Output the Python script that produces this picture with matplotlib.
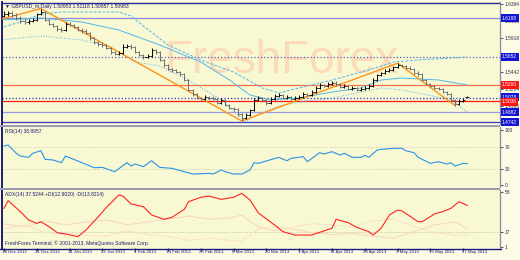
import matplotlib
matplotlib.use('Agg')
import matplotlib.pyplot as plt
import matplotlib.transforms as mtransforms
from matplotlib.patches import Rectangle
from matplotlib.lines import Line2D

# ---- data ----
opens = [1.6232, 1.6250, 1.6270, 1.6238, 1.6196, 1.6158, 1.6140, 1.6152, 1.6168, 1.6252,
         1.6280, 1.6172, 1.6112, 1.6088, 1.6046, 1.6028, 1.6116, 1.6098, 1.6074, 1.6028,
         1.6018, 1.5986, 1.5920, 1.5860, 1.5836, 1.5818, 1.5780, 1.5720, 1.5696, 1.5706,
         1.5790, 1.5808, 1.5790, 1.5724, 1.5678, 1.5654, 1.5664, 1.5752, 1.5720, 1.5612,
         1.5538, 1.5486, 1.5468, 1.5444, 1.5412, 1.5332, 1.5188, 1.5136, 1.5076, 1.5066,
         1.5090, 1.5080, 1.5062, 1.5010, 1.5048, 1.4982, 1.4936, 1.4926, 1.4852, 1.4800,
         1.4838, 1.4912, 1.5048, 1.5080, 1.5048, 1.5010, 1.5062, 1.5108, 1.5118, 1.5080,
         1.5090, 1.5066, 1.5076, 1.5094, 1.5132, 1.5122, 1.5160, 1.5220, 1.5258, 1.5248,
         1.5272, 1.5290, 1.5272, 1.5234, 1.5244, 1.5206, 1.5216, 1.5192, 1.5202, 1.5220,
         1.5244, 1.5332, 1.5398, 1.5430, 1.5454, 1.5472, 1.5510, 1.5542, 1.5524, 1.5500,
         1.5482, 1.5430, 1.5412, 1.5332, 1.5272, 1.5248, 1.5216, 1.5206, 1.5160, 1.5136,
         1.5048, 1.4996, 1.5034, 1.5095]
highs = [1.6290, 1.6300, 1.6296, 1.6262, 1.6222, 1.6188, 1.6178, 1.6200, 1.6272, 1.6330,
         1.6296, 1.6190, 1.6130, 1.6104, 1.6070, 1.6140, 1.6144, 1.6120, 1.6090, 1.6056,
         1.6040, 1.6002, 1.5934, 1.5880, 1.5858, 1.5836, 1.5796, 1.5740, 1.5730, 1.5830,
         1.5836, 1.5828, 1.5802, 1.5740, 1.5696, 1.5690, 1.5776, 1.5770, 1.5730, 1.5626,
         1.5552, 1.5500, 1.5490, 1.5462, 1.5428, 1.5340, 1.5204, 1.5150, 1.5098, 1.5120,
         1.5110, 1.5100, 1.5076, 1.5080, 1.5062, 1.4996, 1.4952, 1.4940, 1.4866, 1.4866,
         1.4930, 1.5078, 1.5100, 1.5096, 1.5064, 1.5090, 1.5134, 1.5148, 1.5136, 1.5116,
         1.5106, 1.5104, 1.5118, 1.5156, 1.5150, 1.5186, 1.5240, 1.5284, 1.5276, 1.5300,
         1.5312, 1.5310, 1.5290, 1.5270, 1.5262, 1.5240, 1.5232, 1.5226, 1.5242, 1.5270,
         1.5352, 1.5420, 1.5448, 1.5478, 1.5494, 1.5532, 1.5566, 1.5560, 1.5546, 1.5522,
         1.5500, 1.5452, 1.5426, 1.5346, 1.5290, 1.5264, 1.5238, 1.5220, 1.5178, 1.5150,
         1.5062, 1.5058, 1.5072, 1.5112]
lows = [1.6210, 1.6226, 1.6218, 1.6176, 1.6130, 1.6118, 1.6120, 1.6136, 1.6160, 1.6240,
        1.6150, 1.6094, 1.6066, 1.6020, 1.6004, 1.6016, 1.6080, 1.6052, 1.6012, 1.5990,
        1.5970, 1.5896, 1.5840, 1.5812, 1.5796, 1.5760, 1.5700, 1.5674, 1.5680, 1.5700,
        1.5772, 1.5770, 1.5706, 1.5660, 1.5626, 1.5640, 1.5656, 1.5700, 1.5590, 1.5518,
        1.5466, 1.5448, 1.5424, 1.5392, 1.5310, 1.5170, 1.5110, 1.5060, 1.5040, 1.5050,
        1.5056, 1.5044, 1.4990, 1.4998, 1.4960, 1.4918, 1.4900, 1.4832, 1.4756, 1.4782,
        1.4826, 1.4900, 1.5030, 1.5030, 1.4984, 1.4998, 1.5050, 1.5092, 1.5060, 1.5064,
        1.5046, 1.5050, 1.5060, 1.5082, 1.5100, 1.5110, 1.5150, 1.5210, 1.5226, 1.5230,
        1.5256, 1.5252, 1.5212, 1.5216, 1.5184, 1.5190, 1.5170, 1.5176, 1.5186, 1.5206,
        1.5236, 1.5320, 1.5384, 1.5414, 1.5436, 1.5458, 1.5496, 1.5508, 1.5478, 1.5466,
        1.5410, 1.5392, 1.5312, 1.5256, 1.5226, 1.5198, 1.5184, 1.5142, 1.5114, 1.5030,
        1.4972, 1.4980, 1.5018, 1.5086]
closes = [1.6254, 1.6268, 1.6240, 1.6198, 1.6156, 1.6142, 1.6150, 1.6170, 1.6254, 1.6282,
          1.6170, 1.6114, 1.6086, 1.6044, 1.6030, 1.6114, 1.6100, 1.6072, 1.6030, 1.6016,
          1.5988, 1.5918, 1.5862, 1.5834, 1.5820, 1.5778, 1.5722, 1.5694, 1.5708, 1.5792,
          1.5806, 1.5792, 1.5722, 1.5680, 1.5652, 1.5666, 1.5750, 1.5722, 1.5610, 1.5540,
          1.5484, 1.5470, 1.5442, 1.5414, 1.5330, 1.5190, 1.5134, 1.5078, 1.5064, 1.5092,
          1.5078, 1.5064, 1.5008, 1.5050, 1.4980, 1.4938, 1.4924, 1.4854, 1.4798, 1.4840,
          1.4910, 1.5050, 1.5078, 1.5050, 1.5008, 1.5064, 1.5106, 1.5120, 1.5078, 1.5092,
          1.5064, 1.5078, 1.5092, 1.5134, 1.5120, 1.5162, 1.5218, 1.5260, 1.5246, 1.5274,
          1.5288, 1.5274, 1.5232, 1.5246, 1.5204, 1.5218, 1.5190, 1.5204, 1.5218, 1.5246,
          1.5330, 1.5400, 1.5428, 1.5456, 1.5470, 1.5512, 1.5540, 1.5526, 1.5498, 1.5484,
          1.5428, 1.5414, 1.5330, 1.5274, 1.5246, 1.5218, 1.5204, 1.5162, 1.5134, 1.5050,
          1.4994, 1.5036, 1.5050, 1.5098]

zz_idx = [-1, 9, 58, 96, 110]
zz_price = [1.6177, 1.6330, 1.4756, 1.5566, 1.4972]

bb_up_idx = [-1, 4, 9, 14, 21, 28, 31, 34, 40, 48, 56, 63, 67, 72, 80, 89, 95, 101, 113]
bb_up = [1.6058, 1.6142, 1.6254, 1.6282, 1.6282, 1.6282, 1.6226, 1.6086, 1.5820, 1.5610,
         1.5442, 1.5218, 1.5148, 1.5218, 1.5330, 1.5470, 1.5582, 1.5610, 1.5652]
bb_mid_idx = [-1, 9, 19, 28, 38, 48, 55, 60, 65, 72, 80, 87, 92, 97, 106, 113]
bb_mid = [1.6170, 1.6198, 1.6142, 1.6030, 1.5820, 1.5582, 1.5330, 1.5120, 1.5050, 1.5078,
          1.5162, 1.5218, 1.5330, 1.5358, 1.5330, 1.5260]
bb_low_idx = [-1, 9, 19, 26, 32, 38, 45, 53, 59, 62, 67, 72, 80, 87, 92, 97, 101, 109, 113]
bb_low = [1.5890, 1.5946, 1.5890, 1.5792, 1.5582, 1.5526, 1.5330, 1.5050, 1.4742, 1.4854,
          1.4966, 1.5022, 1.5078, 1.5162, 1.5218, 1.5190, 1.5148, 1.5050, 1.4882]

levels = [1.6198, 1.5652, 1.5260, 1.5078, 1.5036, 1.4882, 1.4742]
level_colors = ['#8c8ce2', '#5a5ac4', '#ff7050', '#2e2ed8', '#ff1a1a', '#9a9ae6', '#3a3ac6']
level_styles = ['-', ':', '-', ':', '-', '-', '-']
level_box = ['#1414d4', '#1414d4', '#ff1414', '#1414d4', '#ff1414', '#1414d4', '#1414d4']
# the two close price tags are pushed apart a little so they stay readable
level_tag_shift = [0, 0, 0, 0.0012, -0.0012, 0, 0]
price_ticks = [1.6394, 1.6156, 1.5918, 1.5442, 1.5204, 1.4966]

rsi_idx = [0, 1, 3, 4, 6, 7, 9, 10, 12, 14, 15, 17, 19, 22, 24, 27, 30, 31, 32, 34,
           36, 38, 41, 44, 46, 50, 51, 53, 54, 56, 58, 60, 61, 62, 67, 69, 70, 73, 74, 77,
           78, 80, 82, 83, 85, 87, 88, 89, 91, 92, 95, 97, 98, 100, 101, 104, 106, 108, 109, 110,
           112, 113]
rsi_val = [71.0, 72.7, 57.6, 52.7, 50.3, 57.6, 62.4, 46.7, 45.5, 40.6, 52.7, 46.7, 40.6, 31.5,
           32.1, 24.2, 40.6, 34.5, 38.2, 33.3, 44.2, 32.1, 30.3, 24.2, 20.0, 21.2, 20.0, 27.3,
           24.2, 20.0, 20.0, 27.3, 40.6, 39.4, 50.3, 44.2, 48.5, 51.5, 42.4, 58.8, 56.4, 60.6,
           54.5, 57.6, 50.3, 50.3, 54.0, 50.3, 63.6, 64.8, 66.7, 66.7, 62.4, 58.8, 50.3, 39.4,
           42.4, 38.2, 40.6, 34.5, 39.4, 38.9]

adx_idx = [0, 1, 4, 6, 8, 9, 11, 13, 15, 18, 20, 23, 25, 28, 29, 31, 34, 36, 39, 41,
           44, 45, 48, 50, 53, 56, 58, 60, 62, 66, 68, 71, 75, 80, 81, 84, 86, 89, 90, 92,
           94, 96, 97, 101, 102, 105, 107, 109, 111, 113]
adx_val = [41.1, 49.0, 37.6, 29.0, 25.5, 27.2, 22.0, 15.8, 14.5, 11.7, 18.6, 32.4, 42.1, 54.9,
           53.8, 45.6, 42.8, 34.2, 29.7, 31.8, 40.1, 48.0, 52.5, 53.8, 50.4, 52.5, 56.6, 49.7,
           36.5, 23.8, 16.9, 13.4, 13.4, 20.4, 29.7, 26.2, 21.4, 16.9, 13.4, 20.4, 34.2, 39.3,
           38.6, 27.2, 27.2, 35.2, 37.6, 41.1, 48.0, 44.0]
di_idx = [0, 5, 10, 15, 20, 25, 30, 35, 40, 45, 50, 55, 58, 62, 66, 70, 75, 80, 85, 90,
          95, 100, 105, 110, 113]
mdi_val = [25, 22, 28, 24, 27, 29, 24, 27, 30, 33, 30, 31, 34, 22, 18, 20, 16, 14, 15, 12,
           10, 17, 24, 27, 20]
pdi_val = [20, 24, 16, 14, 13, 12, 18, 14, 12, 8, 10, 8, 7, 20, 22, 21, 25, 24, 22, 28,
           30, 22, 16, 13, 14]

date_idx = [0, 8, 16, 24, 32, 40, 48, 56, 64, 72, 80, 88, 96, 104, 112]
date_labels = ['18 Dec 2012', '31 Dec 2012', '11 Jan 2013', '22 Jan 2013', '4 Feb 2013',
               '14 Feb 2013', '26 Feb 2013', '8 Mar 2013', '20 Mar 2013', '1 Apr 2013',
               '11 Apr 2013', '23 Apr 2013', '3 May 2013', '15 May 2013', '27 May 2013']

# ---- layout ----
W, H = 520, 260
BG = '#f8f8d2'
NAVY = '#1c1c78'
plt.rcParams['font.family'] = ['Liberation Sans', 'DejaVu Sans']

fig = plt.figure(figsize=(W / 100, H / 100), dpi=100, facecolor='#fbfbe6')


def box(x0, y0, x1, y1):
    return [x0 / W, 1 - y1 / H, (x1 - x0) / W, (y1 - y0) / H]


ax = fig.add_axes(box(2, 2, 500, 124))
rsi = fig.add_axes(box(2, 127, 500, 187))
adx = fig.add_axes(box(2, 190, 500, 248))

xlo, xhi = (2 - 4) / 4.1, (500 - 4) / 4.1
for a in (ax, rsi, adx):
    a.set_facecolor(BG)
    a.set_xlim(xlo, xhi)
    for s in a.spines.values():
        s.set_visible(False)
    a.spines['left'].set_visible(True)
    a.spines['left'].set_color(NAVY)
    a.spines['left'].set_linewidth(1.4)
    a.spines['right'].set_visible(True)
    a.spines['right'].set_color('#8a8aa4')
    a.spines['right'].set_linewidth(0.9)
    a.yaxis.tick_right()
    a.tick_params(axis='y', labelsize=3.5, colors='#30304a', length=2, width=0.6, pad=1.2)
    a.tick_params(axis='x', bottom=False, labelbottom=False)

# ---- main price panel ----
ax.set_ylim(1.4714, 1.6422)
ax.set_yticks(price_ticks)
ax.set_yticklabels(['%.4f' % p for p in price_ticks])

ax.text(0.56, 0.52, 'FreshForex', transform=ax.transAxes, ha='center', va='center',
        fontsize=33, color='#fcdcb8', family=['Liberation Sans Narrow', 'Liberation Sans'], zorder=0.5)

blend = mtransforms.blended_transform_factory(ax.transAxes, ax.transData)
for lv, c, ls, bc, sh in zip(levels, level_colors, level_styles, level_box, level_tag_shift):
    ax.axhline(lv, color=c, ls=ls, lw=0.9, zorder=1)
    ax.text(1.004, lv + sh, '%.4f' % lv, transform=blend,
            ha='left', va='center', fontsize=3.5, color='white', clip_on=False, zorder=5,
            bbox=dict(boxstyle='square,pad=0.3', fc=bc, ec='none'))
ax.axhline(1.6410, color='#2a2a9a', lw=1.0, zorder=1)

ax.plot(bb_up_idx, bb_up, color='#52b8ee', lw=0.7, dashes=(3, 1.5), zorder=2)
ax.plot(bb_mid_idx, bb_mid, color='#52b8ee', lw=0.7, zorder=2)
ax.plot(bb_low_idx, bb_low, color='#52b8ee', lw=0.7, ls=':', zorder=2)

ax.plot(zz_idx, zz_price, color='#ff9418', lw=1.0, zorder=3)

x = list(range(len(closes)))
bar_cols = ['black' if c >= o else '#6c6c6c' for o, c in zip(opens, closes)]
ax.vlines(x, lows, highs, colors=bar_cols, lw=0.7, zorder=4)
ax.hlines(opens, [i - 0.5 for i in x], x, colors=bar_cols, lw=0.6, zorder=4)
ax.hlines(closes, x, [i + 0.5 for i in x], colors=bar_cols, lw=0.6, zorder=4)

ax.text(0.006, 0.985, '\u25bc GBPUSD_m,Daily 1.50953 1.51118 1.50857 1.50983', transform=ax.transAxes,
        ha='left', va='top', fontsize=3.6, color=NAVY, zorder=6)

# ---- RSI panel ----
rsi.set_ylim(-3.6, 105.5)
rsi.set_yticks([0, 30, 70, 100])
rsi.set_yticklabels(['0', '30', '70', '100'])
for lv in (30, 70):
    rsi.axhline(lv, color='#c8c8b8', ls=':', lw=0.7)
rsi.plot(rsi_idx, rsi_val, color='#2a92e8', lw=0.8)
rsi.text(0.006, 0.97, 'RSI(14) 38.8957', transform=rsi.transAxes, ha='left', va='top',
         fontsize=3.6, color=NAVY)

# ---- ADX panel ----
adx.set_ylim(-0.04, 60.07)
adx.set_yticks([1, 17, 58])
adx.set_yticklabels(['1', '17', '58'])
adx.axhline(17, color='#c0c0b0', ls=':', lw=0.7)
adx.plot(di_idx, pdi_val, color='#f8e2c6', lw=0.7)
adx.plot(di_idx, mdi_val, color='#f9d4c4', lw=0.7)
adx.plot(adx_idx, adx_val, color='#ff2222', lw=0.8)
adx.text(0.006, 0.97, 'ADX(14) 37.5244 +DI(12.9020) -DI(13.8214)', transform=adx.transAxes,
         ha='left', va='top', fontsize=3.6, color=NAVY)
adx.text(0.006, 0.03, 'FreshForex Terminal, \u00a9 2001-2013, MetaQuotes Software Corp.',
         transform=adx.transAxes, ha='left', va='bottom', fontsize=3.6, color=NAVY)

# date axis
adx.set_xticks(date_idx)
adx.tick_params(axis='x', bottom=True, length=2, width=0.8, colors=NAVY, direction='out')
bl = mtransforms.blended_transform_factory(adx.transData, adx.transAxes)
for i, lab in zip(date_idx, date_labels):
    adx.text(i - 0.4, -0.04, lab, transform=bl,
             ha='left', va='top', fontsize=3.2, color=NAVY, clip_on=False)

# panel separators and frame
for y0 in (124.5, 187.5):
    fig.patches.append(Rectangle((0, 1 - (y0 + 2) / H), 500 / W, 2 / H, transform=fig.transFigure,
                                 fc='#9c9cae', ec='none'))
fig.lines.append(Line2D([0, 501 / W], [1 - 248.5 / H] * 2, transform=fig.transFigure, color=NAVY, lw=1.0))

fig.savefig('out.png', dpi=100, facecolor=fig.get_facecolor())
